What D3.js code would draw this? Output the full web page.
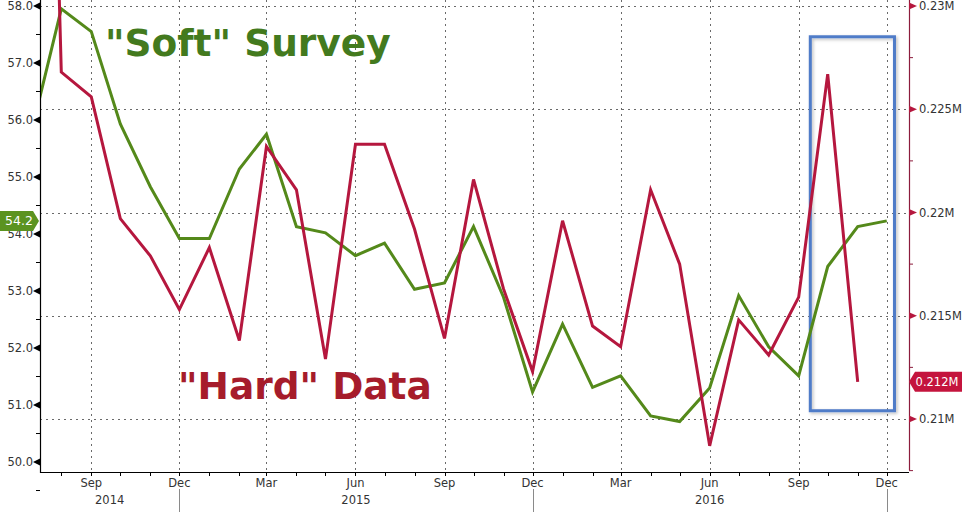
<!DOCTYPE html>
<html>
<head>
<meta charset="utf-8">
<script src="https://cdn.jsdelivr.net/npm/d3@7/dist/d3.min.js"></script>
<style>
  html, body { margin: 0; padding: 0; background: #ffffff; }
  svg { display: block; }
  text { font-family: "DejaVu Sans", Verdana, sans-serif; }
</style>
</head>
<body>
<svg id="chart" width="967" height="512"></svg>
<script>
// ---------------- DATA ----------------
const months = [
  "2014-07","2014-08","2014-09","2014-10","2014-11","2014-12",
  "2015-01","2015-02","2015-03","2015-04","2015-05","2015-06",
  "2015-07","2015-08","2015-09","2015-10","2015-11","2015-12",
  "2016-01","2016-02","2016-03","2016-04","2016-05","2016-06",
  "2016-07","2016-08","2016-09","2016-10","2016-11","2016-12"
];
// "Soft" survey (left axis)
const softSurvey = [
  55.78, 57.95, 57.55, 55.93, 54.83, 53.92,
  53.92, 55.14, 55.75, 54.13, 54.02, 53.62,
  53.84, 53.03, 53.14, 54.13, 52.89, 51.23,
  52.42, 51.31, 51.51, 50.81, 50.71, 51.30,
  52.92, 52.02, 51.51, 53.43, 54.13, 54.23
];
// "Hard" data, millions (right axis)
const hardData = [
  0.2800, 0.2268, 0.2256, 0.2197, 0.2179, 0.2153,
  0.2183, 0.2138, 0.2232, 0.2211, 0.2129, 0.2233,
  0.2233, 0.2192, 0.2139, 0.2216, 0.2163, 0.2123,
  0.2196, 0.2145, 0.2135, 0.2211, 0.2175, 0.2087,
  0.2148, 0.2131, 0.2159, 0.2267, 0.2118, null
];
const leftTicks = [50, 51, 52, 53, 54, 55, 56, 57, 58];
const leftTickLabels = ["50.0","51.0","52.0","53.0","54.0","55.0","56.0","57.0","58.0"];
const rightTicks = [0.21, 0.215, 0.22, 0.225, 0.23];
const rightTickLabels = ["0.21M","0.215M","0.22M","0.225M","0.23M"];
const monthNames = ["Jan","Feb","Mar","Apr","May","Jun","Jul","Aug","Sep","Oct","Nov","Dec"];
const yearLabels = ["2014","2015","2016"];
// highlight box (date range, right-axis value range)
const highlightDates = ["2016-09-13","2016-12-09"];
const highlightValues = [0.2104, 0.22851];
const softTitle = "\"Soft\" Survey";
const hardTitle = "\"Hard\" Data";

// ---------------- SETUP ----------------
const svg = d3.select("#chart");
const L = 40, R = 909, T = 0, B = 472;
const parseM = d3.timeParse("%Y-%m");
const parseD = d3.timeParse("%Y-%m-%d");
const dates = months.map(parseM);

const x = d3.scaleTime()
  .domain([new Date(2014, 6, 10), new Date(2016, 11, 24)])
  .range([L, R]);
const yL = d3.scaleLinear().domain([49.825, 58.105]).range([B, T]);
const yR = d3.scaleLinear().domain([0.207433, 0.230291]).range([B, T]);

const GREEN = "#54891a";
const RED = "#b5173e";
const AXISRED = "#8c1c3c";
const GRID = "#6a6a6a";
const TXT = "#333333";

const defs = svg.append("defs");
defs.append("clipPath").attr("id", "plotclip")
  .append("rect").attr("x", L).attr("y", T).attr("width", R - L).attr("height", B - T);
const f = defs.append("filter").attr("id", "shadow")
  .attr("x", "-20%").attr("y", "-20%").attr("width", "140%").attr("height", "140%");
f.append("feDropShadow").attr("dx", 1.5).attr("dy", 1.5).attr("stdDeviation", 1.5)
  .attr("flood-color", "#000").attr("flood-opacity", 0.25);

// ---------------- GRID ----------------
const allMonths = d3.timeMonth.range(new Date(2014, 7, 1), new Date(2017, 0, 1));
const quarterMonths = allMonths.filter(d => d.getMonth() % 3 === 2);

const grid = svg.append("g");
grid.selectAll("line.h").data(rightTicks).join("line")
  .attr("x1", L).attr("x2", R)
  .attr("y1", d => Math.round(yR(d)) + 0.5).attr("y2", d => Math.round(yR(d)) + 0.5)
  .attr("stroke", GRID).attr("stroke-width", 1).attr("stroke-dasharray", "2,4");
grid.selectAll("line.v").data(quarterMonths).join("line")
  .attr("x1", d => Math.round(x(d)) + 0.5).attr("x2", d => Math.round(x(d)) + 0.5)
  .attr("y1", T).attr("y2", B)
  .attr("stroke", GRID).attr("stroke-width", 1).attr("stroke-dasharray", "2,4");

// ---------------- HIGHLIGHT BOX ----------------
const hx0 = x(parseD(highlightDates[0])), hx1 = x(parseD(highlightDates[1]));
const hy0 = yR(highlightValues[1]), hy1 = yR(highlightValues[0]);
svg.append("rect")
  .attr("x", hx0).attr("y", hy0).attr("width", hx1 - hx0).attr("height", hy1 - hy0)
  .attr("fill", "none").attr("stroke", "#4f7bc8").attr("stroke-width", 3)
  .attr("filter", "url(#shadow)");

// ---------------- LINES ----------------
const plot = svg.append("g").attr("clip-path", "url(#plotclip)");
const softLine = d3.line().x((d, i) => x(dates[i])).y(d => yL(d));
const hardLine = d3.line().defined(d => d !== null).x((d, i) => x(dates[i])).y(d => yR(d));
plot.append("path").datum(softSurvey).attr("d", softLine)
  .attr("fill", "none").attr("stroke", GREEN).attr("stroke-width", 3).attr("stroke-linejoin", "miter");
plot.append("path").datum(hardData).attr("d", hardLine)
  .attr("fill", "none").attr("stroke", RED).attr("stroke-width", 3).attr("stroke-linejoin", "miter");

// ---------------- AXES ----------------
// left axis
const la = svg.append("g");
la.append("line").attr("x1", L + 0.5).attr("x2", L + 0.5).attr("y1", T).attr("y2", B + 1)
  .attr("stroke", "#000").attr("stroke-width", 1.2);
const leftMinor = d3.range(49.5, 58.5, 1);
la.selectAll("line.minor").data(leftMinor).join("line")
  .attr("x1", L - 4).attr("x2", L)
  .attr("y1", d => yL(d)).attr("y2", d => yL(d))
  .attr("stroke", "#000").attr("stroke-width", 1);
la.selectAll("path.tri").data(leftTicks).join("path")
  .attr("d", d => { const y = yL(d); return `M${L},${y - 3.5}L${L - 7},${y}L${L},${y + 3.5}Z`; })
  .attr("fill", "#000");
la.selectAll("text").data(leftTicks).join("text")
  .attr("x", L - 7).attr("y", d => yL(d)).attr("dy", "0.36em")
  .attr("text-anchor", "end").attr("font-size", 11.5).attr("fill", TXT)
  .text((d, i) => leftTickLabels[i]);

// right axis
const ra = svg.append("g");
ra.append("line").attr("x1", R + 0.5).attr("x2", R + 0.5).attr("y1", T).attr("y2", B - 2)
  .attr("stroke", AXISRED).attr("stroke-width", 1.2);
const rightMinor = d3.range(0.2075, 0.2301, 0.005);
ra.selectAll("line.minor").data(rightMinor).join("line")
  .attr("x1", R).attr("x2", R + 4)
  .attr("y1", d => yR(d)).attr("y2", d => yR(d))
  .attr("stroke", AXISRED).attr("stroke-width", 1);
ra.selectAll("path.tri").data(rightTicks).join("path")
  .attr("d", d => { const y = yR(d); return `M${R},${y - 3.5}L${R + 8},${y}L${R},${y + 3.5}Z`; })
  .attr("fill", "#b5173e");
ra.selectAll("text").data(rightTicks).join("text")
  .attr("x", R + 10).attr("y", d => yR(d)).attr("dy", "0.36em")
  .attr("text-anchor", "start").attr("font-size", 11.5).attr("fill", TXT)
  .text((d, i) => rightTickLabels[i]);

// bottom axis
const ba = svg.append("g");
ba.append("line").attr("x1", L).attr("x2", R).attr("y1", B + 0.5).attr("y2", B + 0.5)
  .attr("stroke", "#000").attr("stroke-width", 1.2);
ba.selectAll("line.mt").data(allMonths).join("line")
  .attr("x1", d => Math.round(x(d)) + 0.5).attr("x2", d => Math.round(x(d)) + 0.5)
  .attr("y1", B).attr("y2", B + 4)
  .attr("stroke", "#000").attr("stroke-width", 1);
ba.selectAll("text.m").data(quarterMonths).join("text")
  .attr("x", d => x(d)).attr("y", B + 15)
  .attr("text-anchor", "middle").attr("font-size", 11.5).attr("fill", TXT)
  .text(d => monthNames[d.getMonth()]);
const decs = quarterMonths.filter(d => d.getMonth() === 11);
ba.selectAll("line.ys").data(decs).join("line")
  .attr("x1", d => Math.round(x(d)) + 0.5).attr("x2", d => Math.round(x(d)) + 0.5)
  .attr("y1", B + 17).attr("y2", 512)
  .attr("stroke", "#8a8a8a").attr("stroke-width", 1);
const yearBounds = [L, ...decs.map(d => x(d))];
ba.selectAll("text.y").data(yearLabels).join("text")
  .attr("x", (d, i) => (yearBounds[i] + yearBounds[i + 1]) / 2).attr("y", B + 32)
  .attr("text-anchor", "middle").attr("font-size", 11.5).attr("fill", TXT)
  .text(d => d);

// ---------------- LAST VALUE TAGS ----------------
const lastSoft = softSurvey[softSurvey.length - 1];
const gy = yL(lastSoft);
svg.append("path")
  .attr("d", `M0,${gy - 10}L33,${gy - 10}L39,${gy}L33,${gy + 10}L0,${gy + 10}Z`)
  .attr("fill", "#5b9320");
svg.append("text").attr("x", 19).attr("y", gy).attr("dy", "0.36em")
  .attr("text-anchor", "middle").attr("font-size", 12.5).attr("fill", "#fff")
  .text(d3.format(".1f")(lastSoft));

const hardValid = hardData.filter(d => d !== null);
const lastHard = hardValid[hardValid.length - 1];
const ry = yR(lastHard);
svg.append("path")
  .attr("d", `M${R},${ry}L${R + 6},${ry - 10}L962,${ry - 10}L962,${ry + 10}L${R + 6},${ry + 10}Z`)
  .attr("fill", "#c4143d");
svg.append("text").attr("x", 937).attr("y", ry).attr("dy", "0.36em")
  .attr("text-anchor", "middle").attr("font-size", 11.5).attr("fill", "#fff")
  .text(d3.format(".3f")(lastHard) + "M");

// ---------------- TITLES ----------------
svg.append("text").attr("x", 105).attr("y", 56)
  .attr("font-size", 37.5).attr("font-weight", "bold").attr("fill", "#437a1e")
  .text(softTitle);
svg.append("text").attr("x", 178).attr("y", 399)
  .attr("font-size", 37.5).attr("font-weight", "bold").attr("fill", "#a61c2b")
  .text(hardTitle);
</script>
</body>
</html>
